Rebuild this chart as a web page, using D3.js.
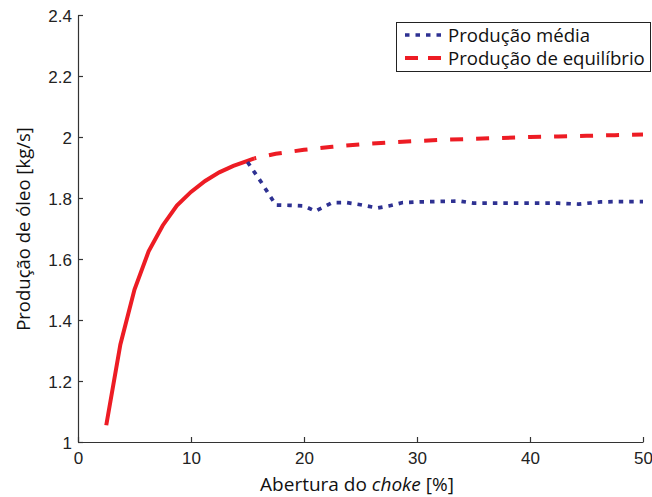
<!DOCTYPE html>
<html>
<head>
<meta charset="utf-8">
<script src="https://cdn.jsdelivr.net/npm/d3@7"></script>
<style>
  body { margin: 0; background: #fff; }
  svg { display: block; }
</style>
</head>
<body>
<div id="chart"></div>
<script>
// equilibrium production, stable part (solid)
var xStable = [2.5, 3.75, 5, 6.25, 7.5, 8.75, 10, 11.25, 12.5, 13.75, 15, 15.6];
var yStable = [1.055, 1.32, 1.50, 1.625, 1.71, 1.775, 1.82, 1.856, 1.884, 1.905, 1.922, 1.930];

// equilibrium production (dashed)
var xEquil = [15.6, 17.5, 20, 22.5, 25, 27.5, 30, 32.5, 35, 37.5, 40, 42.5, 45, 47.5, 50];
var yEquil = [1.930, 1.945, 1.958, 1.968, 1.976, 1.982, 1.987, 1.991, 1.994, 1.997, 2.0, 2.002, 2.004, 2.006, 2.008];

// mean production (dotted)
var xMean = [15, 16.25, 17.5, 18.75, 20, 21, 22.5, 23.75, 25, 26.5, 27.5, 28.75, 30, 31.25, 32.5, 33.75, 35,
             36.25, 37.5, 38.75, 40, 41.25, 42.5, 44.3, 46.25, 47.5, 48.75, 50];
var yMean = [1.918, 1.85, 1.777, 1.776, 1.774, 1.757, 1.785, 1.785, 1.778, 1.767, 1.774, 1.785, 1.787, 1.788, 1.789, 1.790, 1.783,
             1.783, 1.783, 1.783, 1.783, 1.783, 1.783, 1.780, 1.787, 1.788, 1.788, 1.788];

var xTicks = [0, 10, 20, 30, 40, 50];
var yTicks = [1, 1.2, 1.4, 1.6, 1.8, 2, 2.2, 2.4];
var legendLabels = ["Produção média", "Produção de equilíbrio"];

var W = 652, H = 497;
var blue = "#2e3192", red = "#ed1c24";

var svg = d3.select("#chart").append("svg").attr("width", W).attr("height", H);

var x = d3.scaleLinear().domain([0, 50]).range([78, 643]);
var y = d3.scaleLinear().domain([1, 2.4]).range([442, 15]);

var zip = function(xs, ys) { return xs.map(function(d, i) { return [d, ys[i]]; }); };
var line = d3.line().x(function(d) { return x(d[0]); }).y(function(d) { return y(d[1]); });

// axes (ticks pointing inward)
var xAxis = svg.append("g").attr("transform", "translate(0,442)")
  .call(d3.axisBottom(x).tickValues(xTicks).tickSize(-5).tickPadding(10).tickSizeOuter(0));
var yAxis = svg.append("g").attr("transform", "translate(78,0)")
  .call(d3.axisLeft(y).tickValues(yTicks).tickSize(-5).tickPadding(6).tickSizeOuter(0)
    .tickFormat(function(d) { return String(d); }));

[xAxis, yAxis].forEach(function(a) {
  a.selectAll("path, line").attr("stroke", "#333").attr("stroke-width", 1.2);
  a.selectAll("text").attr("fill", "#222")
    .style("font-family", "'Liberation Sans', Arial, sans-serif").style("font-size", "17px");
});
xAxis.selectAll("text").attr("dy", "0.71em");
yAxis.selectAll("text").attr("dy", "0.36em");

// lines
svg.append("path").datum(zip(xStable, yStable)).attr("d", line)
  .attr("fill", "none").attr("stroke", red).attr("stroke-width", 4);
svg.append("path").datum(zip(xEquil, yEquil)).attr("d", line)
  .attr("fill", "none").attr("stroke", red).attr("stroke-width", 4)
  .attr("stroke-dasharray", "13,13").attr("stroke-dashoffset", 11);
svg.append("path").datum(zip(xMean, yMean)).attr("d", line)
  .attr("fill", "none").attr("stroke", blue).attr("stroke-width", 3.7)
  .attr("stroke-dasharray", "4.5,6");

// axis labels
var labelFont = "'Open Sans', 'Noto Sans', sans-serif";
svg.append("text").attr("x", 357).attr("y", 491).attr("text-anchor", "middle")
  .style("font-family", labelFont).style("font-size", "19px").attr("fill", "#111")
  .html("Abertura do <tspan font-style='italic'>choke</tspan> [%]");
svg.append("text").attr("transform", "translate(30,229) rotate(-90)").attr("text-anchor", "middle")
  .style("font-family", labelFont).style("font-size", "18.5px").attr("fill", "#111")
  .text("Produção de óleo [kg/s]");

// legend
var lg = svg.append("g");
lg.append("rect").attr("x", 396.5).attr("y", 22.5).attr("width", 254).attr("height", 49)
  .attr("fill", "#fff").attr("stroke", "#222").attr("stroke-width", 1);
var styles = [
  { color: blue, dash: "4.5,6", w: 3.7 },
  { color: red, dash: "13,10", w: 4 }
];
legendLabels.forEach(function(lbl, i) {
  var cy = 35 + i * 23;
  lg.append("line").attr("x1", 405).attr("x2", 442).attr("y1", cy).attr("y2", cy)
    .attr("stroke", styles[i].color).attr("stroke-width", styles[i].w)
    .attr("stroke-dasharray", styles[i].dash);
  lg.append("text").attr("x", 448).attr("y", cy).attr("dy", "0.35em")
    .style("font-family", labelFont).style("font-size", "18.6px").attr("fill", "#111")
    .text(lbl);
});
</script>
</body>
</html>
